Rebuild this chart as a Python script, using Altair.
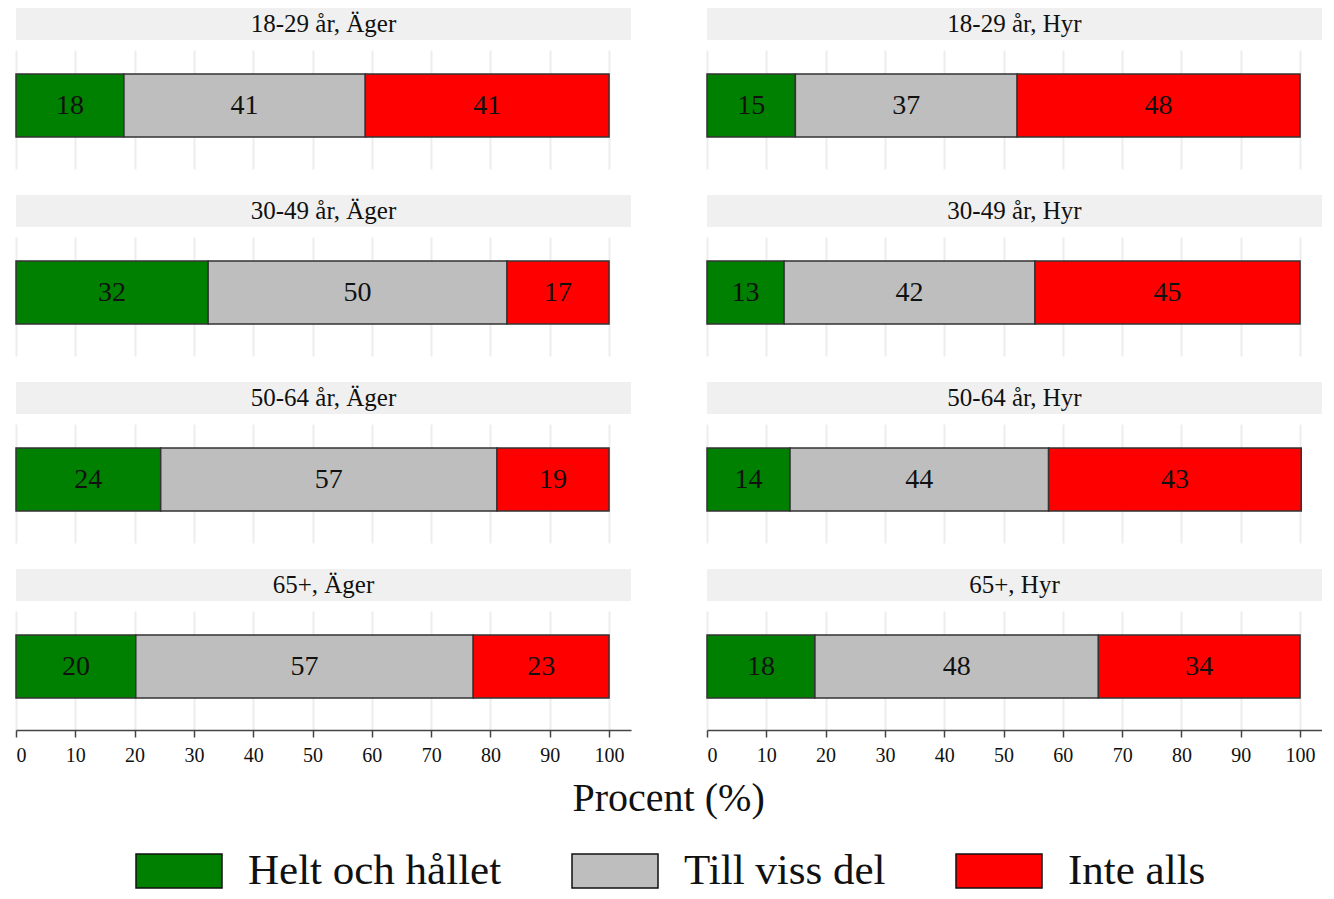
import altair as alt
import pandas as pd

FONT = "Liberation Serif"

ages = ["18-29 år", "30-49 år", "50-64 år", "65+"]
tenures = ["Äger", "Hyr"]
categories = ["Helt och hållet", "Till viss del", "Inte alls"]
colors = ["#008000", "#bebebe", "#ff0000"]
ticks = [0, 10, 20, 30, 40, 50, 60, 70, 80, 90, 100]

# Values (%) per age group, in order of ages
helt_ager = [18.2, 32.4, 24.4, 20.2]
till_ager = [40.7, 50.4, 56.7, 56.9]
inte_ager = [41.1, 17.2, 18.9, 22.9]
helt_hyr = [14.9, 13.0, 14.0, 18.2]
till_hyr = [37.4, 42.3, 43.6, 47.8]
inte_hyr = [47.7, 44.7, 42.6, 34.0]

series = {
    "Äger": [helt_ager, till_ager, inte_ager],
    "Hyr": [helt_hyr, till_hyr, inte_hyr],
}

rows = []
for ten in tenures:
    for ai, age in enumerate(ages):
        for ci, cat in enumerate(categories):
            rows.append({
                "panel": f"{age}, {ten}",
                "category": cat,
                "order": ci,
                "value": series[ten][ci][ai],
            })
df = pd.DataFrame(rows)

W = 615
H = 119

legend = alt.Legend(
    title=None,
    orient="none",
    direction="horizontal",
    legendX=119,
    legendY=819,
    symbolType="M-1,-0.395L1,-0.395L1,0.395L-1,0.395Z",
    symbolSize=7396,
    symbolStrokeColor="#111111",
    symbolStrokeWidth=1.5,
    symbolOpacity=1,
    labelFont=FONT,
    labelFontSize=43,
    labelColor="#111111",
    labelOffset=25,
    labelLimit=600,
    columnPadding=67,
)


def panel(age, ten, bottom):
    label = f"{age}, {ten}"
    d = df[df.panel == label]
    header = (
        alt.Chart(d.head(1))
        .mark_text(font=FONT, fontSize=25, color="#111111", baseline="middle")
        .encode(text="panel:N")
        .properties(width=W, height=32,
                    view=alt.ViewBackground(fill="#f0f0f0", strokeWidth=0))
    )
    base = alt.Chart(d).transform_stack(
        stack="value", groupby=["panel"], sort=[alt.SortField("order")],
        as_=["x0", "x1"]
    ).transform_calculate(mid="(datum.x0 + datum.x1) / 2")
    xaxis = alt.Axis(
        values=ticks, grid=True, gridColor="#ededed", gridWidth=2,
        labels=bottom, ticks=bottom, domain=bottom, title=None,
        domainColor="#444444", domainWidth=1.5, tickColor="#444444",
        tickWidth=1.5, tickSize=7, labelFont=FONT, labelFontSize=20,
        labelColor="#111111", labelPadding=8,
    )
    yscale = alt.Scale(paddingInner=0, paddingOuter=0.4444, align=0.4286)
    bars = base.mark_bar(stroke="#333333", strokeWidth=1.5).encode(
        x=alt.X("x0:Q", scale=alt.Scale(domain=[0, 103.7], nice=False), axis=xaxis),
        x2="x1:Q",
        y=alt.Y("panel:N", axis=None, scale=yscale),
        color=alt.Color("category:N",
                        scale=alt.Scale(domain=categories, range=colors),
                        legend=legend),
    )
    text = base.mark_text(font=FONT, fontSize=28, color="#111111").encode(
        x="mid:Q",
        y=alt.Y("panel:N", axis=None, scale=yscale),
        text=alt.Text("value:Q", format=".0f"),
    )
    body = alt.layer(bars, text).properties(
        width=W, height=H, view=alt.ViewBackground(strokeWidth=0)
    )
    return alt.vconcat(header, body, spacing=10)


rows_charts = []
for ai, age in enumerate(ages):
    bottom = ai == len(ages) - 1
    kw = {}
    if bottom:
        kw["title"] = alt.TitleParams(
            "Procent (%)", orient="bottom", anchor="middle", font=FONT,
            fontSize=40, fontWeight="normal", color="#111111", offset=14,
        )
    rows_charts.append(
        alt.hconcat(panel(age, "Äger", bottom), panel(age, "Hyr", bottom),
                    spacing=75, **kw)
    )

chart = alt.vconcat(*rows_charts, spacing=26).properties(
    padding={"left": 7, "top": 0, "right": 0, "bottom": 0}
).configure_view(strokeWidth=0).configure(background="white")

chart.save("out.html", embed_options={"renderer": "svg", "actions": False})
